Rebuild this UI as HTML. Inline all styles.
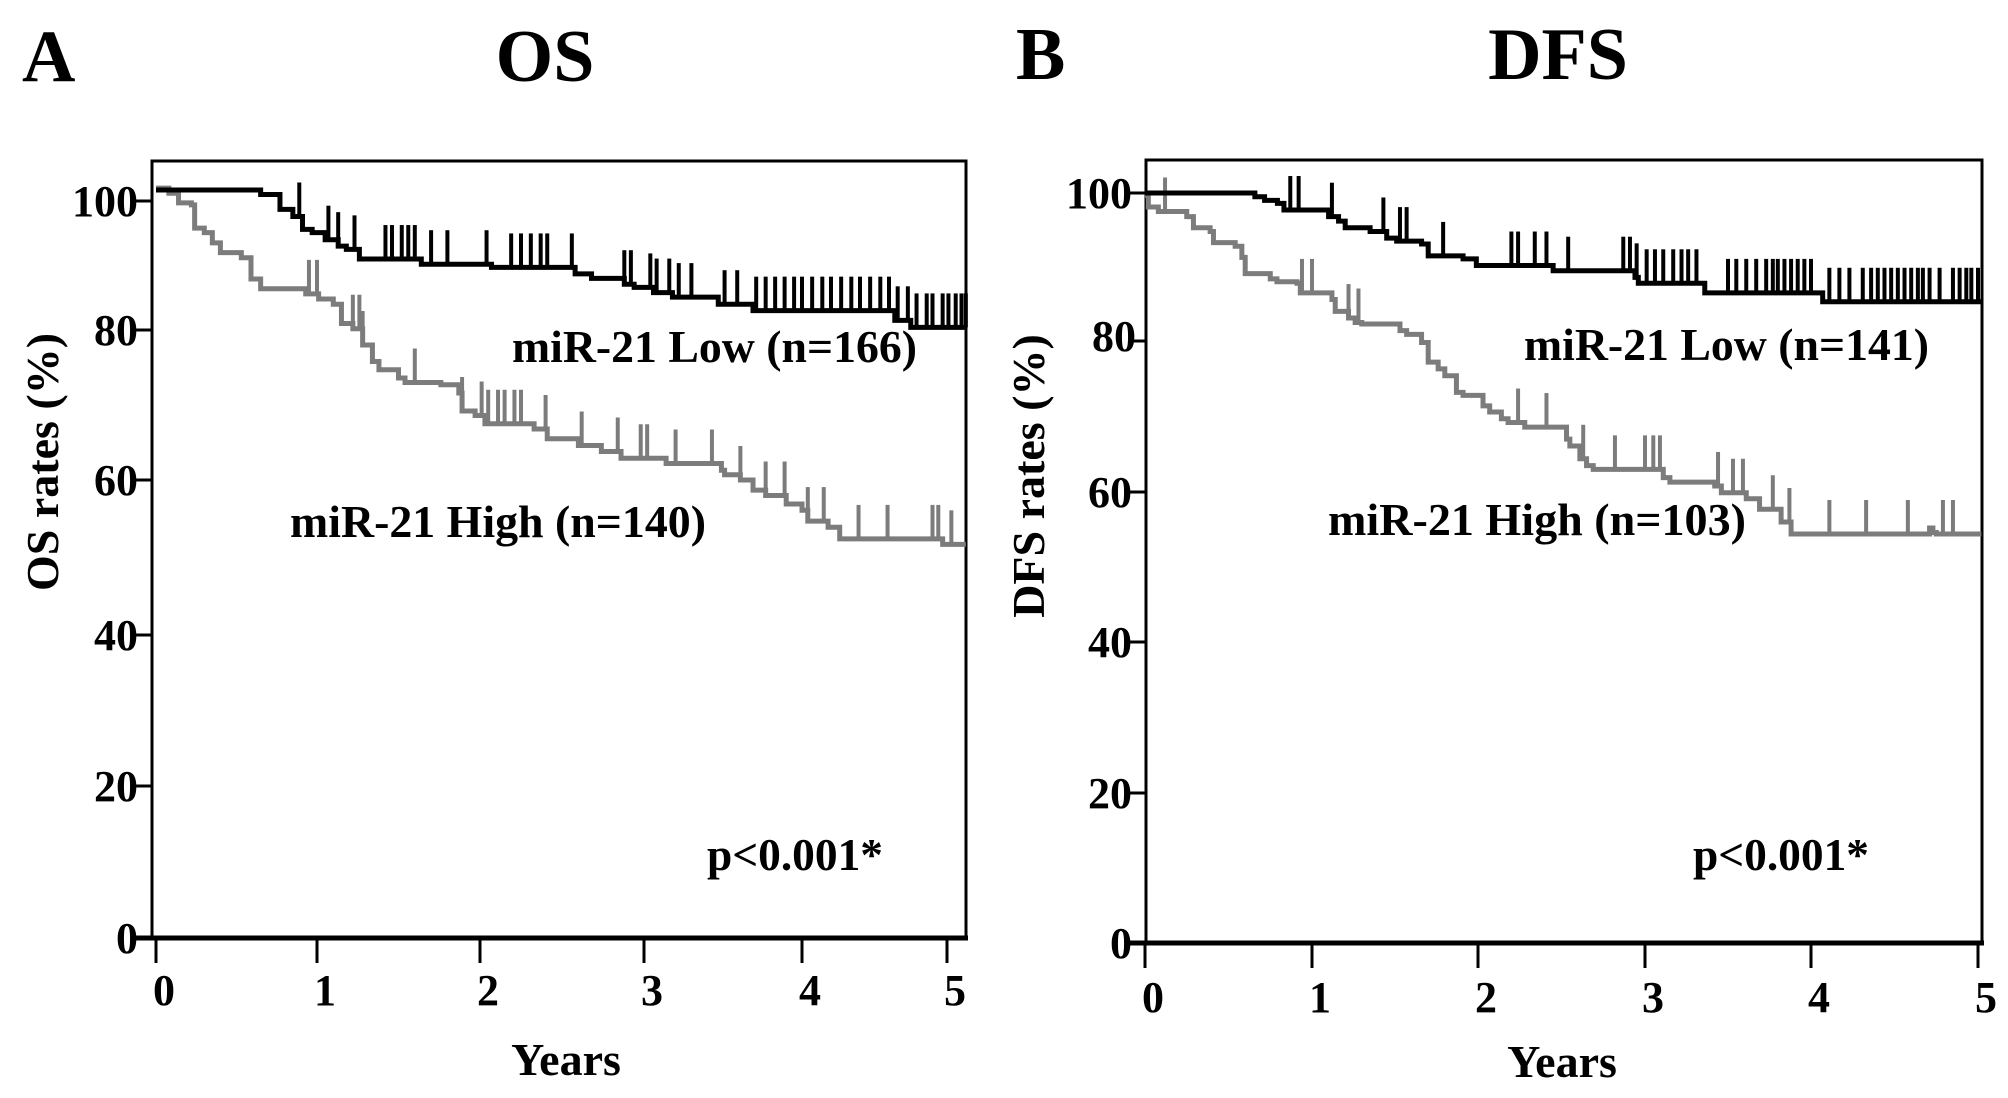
<!DOCTYPE html>
<html><head><meta charset="utf-8"><style>
html,body{margin:0;padding:0;background:#fff;}
svg{display:block;}
text{font-family:"Liberation Serif",serif;font-weight:bold;fill:#000;}
</style></head><body>
<svg id="fig" width="2008" height="1098" viewBox="0 0 2008 1098" xmlns="http://www.w3.org/2000/svg">
<text x="22" y="81" font-size="74">A</text>
<text x="545" y="81" font-size="74" text-anchor="middle">OS</text>
<text x="1016" y="79" font-size="74">B</text>
<text x="1558" y="79" font-size="74" text-anchor="middle">DFS</text>
<g id="pa"></g>
<g id="pb"></g>
</svg>
<script>
// ---- Panel A (OS) data ----
const xTicksLabels = ["0","1","2","3","4","5"];
const yTickLabels = ["0","20","40","60","80","100"];
const osLowTimes = [0,0.65,0.77,0.85,0.91,0.97,1.05,1.13,1.18,1.26,1.64,2.07,2.58,2.68,2.88,2.94,3.06,3.18,3.47,3.69,4.64,4.75];
const osLowVals  = [101.7,101,98.7,97.6,95.6,95.1,94,93,92.5,91,90.2,89.7,88.7,88,87.1,86.6,85.8,85.1,84,83,81.5,80.4];
const osLowCensor = [0.89,1.07,1.13,1.23,1.42,1.46,1.52,1.56,1.60,1.70,1.80,2.04,2.19,2.25,2.31,2.37,2.41,2.56,2.88,2.92,3.04,3.08,3.16,3.22,3.30,3.51,3.59,3.71,3.77,3.83,3.89,3.95,4.0,4.07,4.14,4.2,4.27,4.34,4.4,4.47,4.54,4.6,4.66,4.73,4.79,4.86,4.9,4.97,5.01,5.06,5.1,5.13];
const osHighTimes = [0,0.08,0.14,0.22,0.24,0.30,0.35,0.40,0.53,0.59,0.65,0.93,1.01,1.10,1.15,1.22,1.28,1.34,1.38,1.50,1.54,1.76,1.87,1.89,1.97,2.03,2.33,2.41,2.60,2.74,2.86,3.14,3.49,3.51,3.61,3.69,3.77,3.90,4.0,4.04,4.18,4.26,4.97];
const osHighVals  = [102,101.2,99.7,99.4,95.8,95.1,93.5,92,91.2,87.9,86.4,85.6,84.8,84.0,81.0,80.2,78.0,75.8,74.7,73.6,73.0,72.7,71.6,69.2,68.6,67.5,66.8,65.5,64.6,63.8,62.9,62.2,61.3,60.7,60.0,58.7,58.0,56.9,56.1,54.7,53.9,52.4,51.7];
const osHighCensor = [0.95,1.0,1.22,1.26,1.28,1.6,1.89,2.01,2.05,2.11,2.15,2.21,2.25,2.40,2.62,2.84,2.98,3.02,3.2,3.43,3.61,3.77,3.89,4.04,4.15,4.39,4.59,4.9,4.94,5.03];
// ---- Panel B (DFS) data ----
const dfsLowTimes = [0,0.658,0.716,0.793,0.832,1.10,1.16,1.2,1.35,1.45,1.51,1.66,1.70,1.91,1.99,2.45,2.94,2.96,3.36,4.07];
const dfsLowVals  = [100,99.5,99.0,98.6,97.7,96.8,96.2,95.3,94.8,93.9,93.5,93.1,91.5,91.1,90.2,89.5,88.6,87.8,86.5,85.3];
const dfsLowCensor = [0.87,0.92,1.12,1.43,1.53,1.57,1.79,2.20,2.24,2.34,2.41,2.54,2.87,2.91,2.95,3.01,3.06,3.11,3.17,3.22,3.26,3.31,3.50,3.55,3.61,3.67,3.73,3.77,3.80,3.84,3.88,3.92,3.96,4.0,4.11,4.17,4.23,4.31,4.36,4.40,4.44,4.48,4.52,4.56,4.6,4.64,4.67,4.71,4.77,4.85,4.89,4.93,4.96,5.0];
const dfsHighTimes = [0,0.02,0.08,0.25,0.29,0.39,0.41,0.54,0.58,0.60,0.75,0.79,0.91,0.93,1.12,1.14,1.22,1.26,1.30,1.53,1.57,1.66,1.70,1.76,1.80,1.87,1.91,2.03,2.07,2.14,2.18,2.28,2.53,2.55,2.61,2.65,2.69,3.11,3.15,3.42,3.46,3.61,3.69,3.82,3.88,4.71,4.73,4.75];
const dfsHighVals  = [99.7,98.1,97.5,96.8,95.3,94.8,93.3,92.8,91.3,89.1,88.4,88.0,87.8,86.5,85.6,84.0,83.1,82.5,82.3,81.4,80.9,79.8,77.2,76.3,75.4,73.2,72.8,71.4,70.6,69.7,69.2,68.6,67.0,66.1,64.4,63.5,63.0,61.9,61.3,60.8,59.9,59.1,57.7,56.0,54.4,55.2,54.6,54.4];
const dfsHighCensor = [0.12,0.94,1.0,1.22,1.28,2.24,2.41,2.63,2.82,3.0,3.05,3.09,3.44,3.53,3.59,3.77,3.87,4.11,4.33,4.58,4.79,4.85];
const yTickValues = [0,20,40,60,80,100];
const xTickValues = [0,1,2,3,4,5];

const NS="http://www.w3.org/2000/svg";
function mk(parent,tag,attrs){const e=document.createElementNS(NS,tag);for(const k in attrs)e.setAttribute(k,attrs[k]);parent.appendChild(e);return e;}
function piece(vals,px){return v=>{let i=0;while(i<vals.length-2&&v>vals[i+1])i++;const t=(v-vals[i])/(vals[i+1]-vals[i]);return px[i]+t*(px[i+1]-px[i]);};}

function panel(g,cfg){
  const xs=piece(xTickValues,cfg.xpx), ys=piece(yTickValues,cfg.ypx);
  let f=mk(g,'rect',{x:cfg.L,y:cfg.T,width:cfg.R-cfg.L,height:cfg.B-cfg.T,fill:'none',stroke:'#000','stroke-width':3});
  
  
  let xa=mk(g,'line',{x1:cfg.L-18,x2:cfg.R+2,y1:cfg.B,y2:cfg.B,stroke:'#000','stroke-width':5});
  
  
  yTickValues.forEach((v,i)=>{
    const y=ys(v);
    const t=mk(g,'line',{x1:cfg.L-18,x2:cfg.L,y1:y,y2:y,stroke:'#000','stroke-width':3});
    
    
    const off=(cfg.lab80&&v===80);
    const tx=mk(g,'text',{x:cfg.L-(off?10:14),y:y+(off?10:15),'font-size':44,'text-anchor':'end'});
    tx.textContent=yTickLabels[i];
    
    
  });
  xTickValues.forEach((v,i)=>{
    const x=xs(v);
    const t=mk(g,'line',{x1:x,x2:x,y1:cfg.B,y2:cfg.B+25,stroke:'#000','stroke-width':3});
    
    
    const tx=mk(g,'text',{x:x+8,y:cfg.xlabY,'font-size':44,'text-anchor':'middle'});
    tx.textContent=xTicksLabels[i];
    
    
  });
  let xt=mk(g,'text',{x:cfg.xtX,y:cfg.xtY,'font-size':46,'text-anchor':'middle'});
  xt.textContent='Years';
  
  
  let yt=mk(g,'text',{x:0,y:0,'font-size':46,'text-anchor':'middle',transform:`translate(${cfg.ytX},${cfg.ytY}) rotate(-90)`,'xml:space':'preserve'});
  yt.textContent=cfg.ytitle;
  
  
  function curve(times,vals,cens,color,name){
    let d=`M${xs(times[0])},${ys(vals[0])}`;
    for(let i=1;i<times.length;i++){d+=`H${xs(times[i])}V${ys(vals[i])}`;}
    d+=`H${xs(cfg.end)}`;
    const p=mk(g,'path',{d:d,fill:'none',stroke:color,'stroke-width':5});
    
    
    cens.forEach(c=>{
      let i=0;while(i<times.length-1&&times[i+1]<=c)i++;
      const x=xs(c),y=ys(vals[i]);
      const l=mk(g,'line',{x1:x,x2:x,y1:y,y2:y-34,stroke:color,'stroke-width':4});
      
      
    });
  }
  curve(cfg.hiT,cfg.hiV,cfg.hiC,'#7c7c7c','high-group');
  curve(cfg.loT,cfg.loV,cfg.loC,'#000','low-group');
  cfg.texts.forEach(t=>{
    const e=mk(g,'text',{x:t[0],y:t[1],'font-size':t[3]||46,textLength:t[4],lengthAdjust:'spacingAndGlyphs'});
    e.textContent=t[2];
    
    
  });
}
panel(document.getElementById('pa'),{L:152,R:966,T:161,B:938,xpx:[156,317,480,644,802,947],ypx:[938,786,635,480,330,201],
  xlabY:1005,xtX:566,xtY:1075,ytX:58,ytY:462,ytitle:'OS rates (%)',end:5.13,
  loT:osLowTimes,loV:osLowVals,loC:osLowCensor,hiT:osHighTimes,hiV:osHighVals,hiC:osHighCensor,
  texts:[[512,362,'miR-21 Low (n=166)',46,405,'legend-low'],[290,537,'miR-21 High (n=140)',46,416,'legend-high'],[707,870,'p<0.001*',46,176,'p-value']]});
panel(document.getElementById('pb'),{L:1146,R:1982,T:160,B:943,xpx:[1145,1312,1478,1645,1811,1978],ypx:[943,793,642,492,341,193],
  xlabY:1012,xtX:1562,xtY:1077,ytX:1044,ytY:476,ytitle:'DFS  rates (%)',end:5.02,lab80:true,
  loT:dfsLowTimes,loV:dfsLowVals,loC:dfsLowCensor,hiT:dfsHighTimes,hiV:dfsHighVals,hiC:dfsHighCensor,
  texts:[[1524,360,'miR-21 Low (n=141)',46,405,'legend-low'],[1328,535,'miR-21 High (n=103)',46,418,'legend-high'],[1693,870,'p<0.001*',46,176,'p-value']]});
</script>
</body></html>
